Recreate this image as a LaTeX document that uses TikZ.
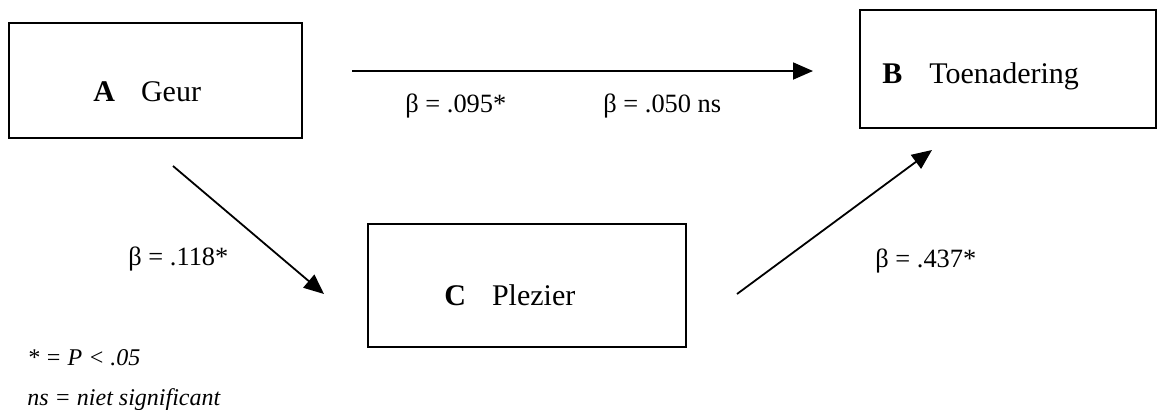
\documentclass[tikz,border=0pt]{standalone}
\usepackage{fontspec}
\setmainfont{Liberation Serif}
\usetikzlibrary{arrows.meta}
\begin{document}
\begin{tikzpicture}[x=0.5pt,y=-0.5pt,
  box/.style={draw,line width=1pt,inner sep=0pt,minimum width=#1},
  boxtext/.style={anchor=base west,inner sep=0pt,font=\fontsize{15}{17}\selectfont},
  lab/.style={anchor=base west,inner sep=0pt,font=\fontsize{13.2}{15}\selectfont},
  note/.style={anchor=base west,inner sep=0pt,font=\fontsize{12}{14}\selectfont\itshape},
  arr/.style={line width=0.9pt,-{Triangle[length=10pt,width=8.5pt]}}]
\useasboundingbox (0,0) rectangle (1158,409);
% boxes
\node[box=146.5pt,minimum height=57.5pt] (A) at (155.5,80.5) {};
\node[box=148pt,minimum height=59pt] (B) at (1008,69) {};
\node[box=159pt,minimum height=61.5pt] (C) at (527,285.5) {};
\node[boxtext] (Atext) at (93,101) {\textbf{A}\hspace{13pt}Geur};
\node[boxtext] (Btext) at (882,83) {\textbf{B}\hspace{13.5pt}Toenadering};
\node[boxtext] (Ctext) at (444,305) {\textbf{C}\hspace{13pt}Plezier};
% arrow end points
\coordinate (t1) at (352,71);
\coordinate (t2) at (813,71);
\coordinate (ac1) at (173,166);
\coordinate (ac2) at (324,294);
\coordinate (cb1) at (737,294);
\coordinate (cb2) at (932,150);
\draw[arr] (t1) -- (t2);
\draw[arr] (ac1) -- (ac2);
\draw[arr] (cb1) -- (cb2);
% labels
\node[lab] (l1) at (405,112) {β = .095*};
\node[lab] (l2) at (603,112) {β = .050 ns};
\node[lab] (l3) at (128,265) {β = .118*};
\node[lab] (l4) at (875,267) {β = .437*};
\node[note] (n1) at (27,365) {* = P < .05};
\node[note] (n2) at (27,405) {ns = niet significant};
\end{tikzpicture}
\end{document}
